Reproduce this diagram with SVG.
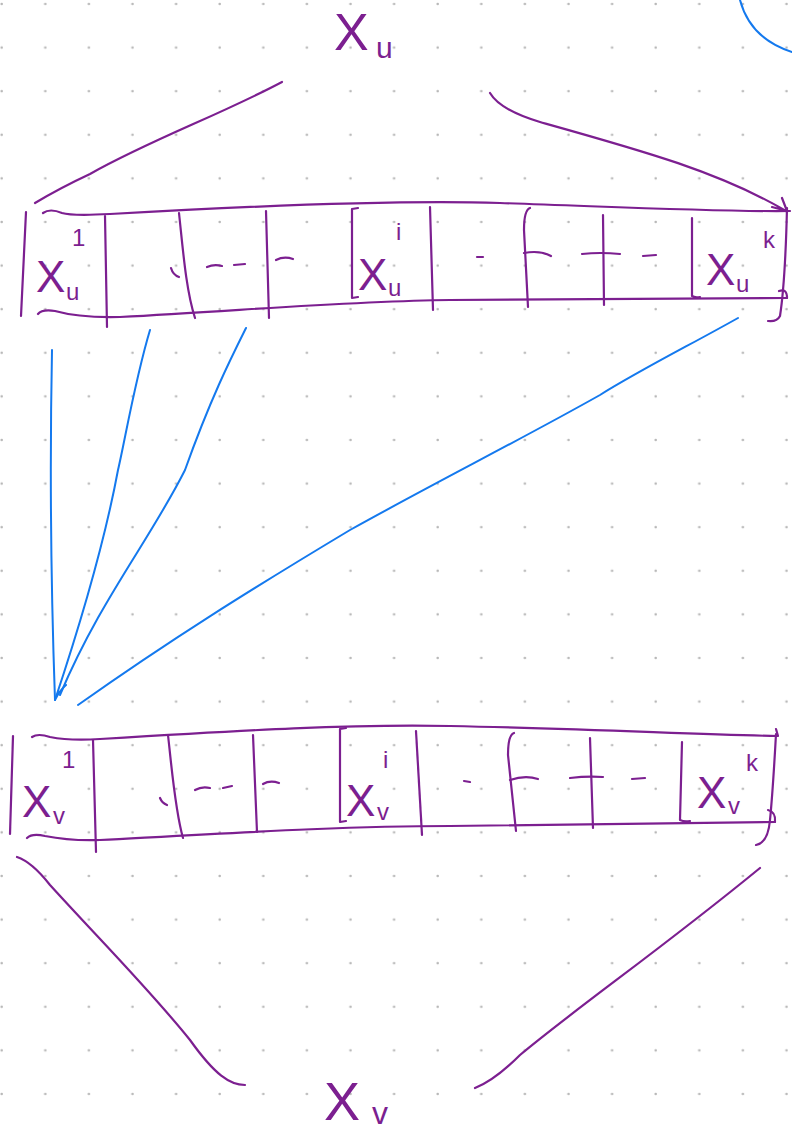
<svg xmlns="http://www.w3.org/2000/svg" width="792" height="1135" viewBox="0 0 792 1135">
<style>
.p{fill:none;stroke:#7c1f90;stroke-width:2.2;stroke-linecap:round;stroke-linejoin:round}
.b{fill:none;stroke:#1479ee;stroke-width:2;stroke-linecap:round;stroke-linejoin:round}
.t{fill:#7c1f90;font-family:"Liberation Sans",Arial,sans-serif}
.X{font-size:44px}
.s{font-size:24px}
</style>
<defs>
<pattern id="dots" patternUnits="userSpaceOnUse" x="0" y="0" width="43.6" height="43.6">
<circle cx="1.7" cy="4" r="1.3" fill="#b8b8b8"/>
</pattern>
</defs>
<rect width="792" height="1135" fill="#ffffff"/>
<rect width="792" height="1135" fill="url(#dots)"/>

<g id="label-Xu">
<text class="t" x="334" y="50" font-size="52">X</text>
<text class="t" x="376" y="58" font-size="30">u</text>
</g>

<g id="array-u">
<path class="p" d="M43,213 Q50,208 62,213 Q72,216 110,214 C250,206 400,200 500,203 C620,207 720,212 790,211"/>
<path class="p" d="M38,314 Q42,309 55,311 Q80,318 120,317 C250,310 350,301 450,300 C600,299 700,299 787,298"/>
<path class="p" d="M26,212 L21,316"/>
<path class="p" d="M787,208 C786,250 784,290 780,316 Q777,322 768,321"/>
<path class="p" d="M779,291 Q787,288 787,298"/>
<path class="p" d="M105,216 L107,327"/>
<path class="p" d="M179,213 C183,250 186,290 195,318"/>
<path class="p" d="M266,211 L269,318"/>
<path class="p" d="M358,208 L352,209 L352,298 L358,297"/>
<path class="p" d="M430,207 L433,310"/>
<path class="p" d="M530,208 Q524,210 524,230 L528,307"/>
<path class="p" d="M524,253 Q540,250 551,256"/>
<path class="p" d="M603,215 L604,305"/>
<path class="p" d="M582,254 Q600,252 620,254"/>
<path class="p" d="M692,218 L692,296 Q695,298 700,297"/>
<path class="p" d="M171,268 Q173,275 179,277"/>
<path class="p" d="M207,267 Q214,264 222,266 M234,265 L245,264"/>
<path class="p" d="M276,260 Q284,256 293,259"/>
<path class="p" d="M477,257 L483,257"/>
<path class="p" d="M643,256 L656,255"/>
<text class="t X" x="36" y="292">X</text>
<text class="t s" x="66" y="300">u</text>
<text class="t s" x="72" y="246">1</text>
<text class="t X" x="358" y="290">X</text>
<text class="t s" x="388" y="296">u</text>
<text class="t s" x="396" y="240">i</text>
<text class="t X" x="706" y="285">X</text>
<text class="t s" x="736" y="292">u</text>
<text class="t s" x="763" y="248">k</text>
</g>

<g id="array-v">
<path class="p" d="M32,737 Q38,733 50,737 Q70,741 100,739 C250,730 350,724 450,726 C600,729 700,735 778,736 L776,729"/>
<path class="p" d="M27,838 Q32,833 45,836 Q70,841 100,840 C250,832 350,826 450,826 C600,825 700,823 775,822"/>
<path class="p" d="M13,736 L10,834"/>
<path class="p" d="M776,734 C774,770 772,800 770,820 Q768,843 756,845"/>
<path class="p" d="M768,810 Q776,812 775,822"/>
<path class="p" d="M93,740 L96,852"/>
<path class="p" d="M168,735 C172,770 175,810 183,838"/>
<path class="p" d="M253,735 L257,832"/>
<path class="p" d="M346,728 L340,729 L340,822 L346,821"/>
<path class="p" d="M416,731 L422,835"/>
<path class="p" d="M514,733 Q508,735 508,755 L516,831"/>
<path class="p" d="M510,780 Q525,775 538,779"/>
<path class="p" d="M590,738 L593,828"/>
<path class="p" d="M570,778 Q587,776 603,777"/>
<path class="p" d="M682,742 L680,820 Q684,822 690,821"/>
<path class="p" d="M160,798 Q162,803 167,805"/>
<path class="p" d="M195,790 Q202,786 210,788 M223,788 L232,786"/>
<path class="p" d="M263,784 Q270,780 279,783"/>
<path class="p" d="M464,781 L470,782"/>
<path class="p" d="M632,779 L645,778"/>
<text class="t X" x="22" y="817">X</text>
<text class="t s" x="53" y="824">v</text>
<text class="t s" x="62" y="768">1</text>
<text class="t X" x="346" y="816">X</text>
<text class="t s" x="377" y="820">v</text>
<text class="t s" x="383" y="768">i</text>
<text class="t X" x="697" y="808">X</text>
<text class="t s" x="728" y="814">v</text>
<text class="t s" x="746" y="771">k</text>
</g>

<g id="label-Xv">
<text class="t" x="324" y="1120" font-size="54">X</text>
<text class="t" x="372" y="1124" font-size="32">v</text>
</g>

<g id="connectors">
<path class="p" d="M35,203 Q60,188 90,174 C150,140 220,115 282,82"/>
<path class="p" d="M490,93 Q500,110 540,122 C640,150 720,172 786,211 M772,207 L787,211 L782,198"/>
<path class="p" d="M17,857 Q32,862 50,885 C100,940 150,990 190,1040 C215,1075 230,1085 245,1085"/>
<path class="p" d="M475,1088 Q495,1080 520,1055 C580,1005 660,950 760,868"/>
<path class="b" d="M52,350 C50,450 50,560 55,700"/>
<path class="b" d="M150,330 C135,380 125,440 118,470 C105,540 85,610 55,700 Q60,690 66,685"/>
<path class="b" d="M246,328 C230,360 210,400 185,470 C150,540 100,600 60,695"/>
<path class="b" d="M738,318 C690,345 640,370 600,395 C520,440 440,480 350,530 C250,590 170,640 78,705"/>
<path class="b" d="M740,0 C748,30 770,45 792,52"/>
</g>
</svg>
